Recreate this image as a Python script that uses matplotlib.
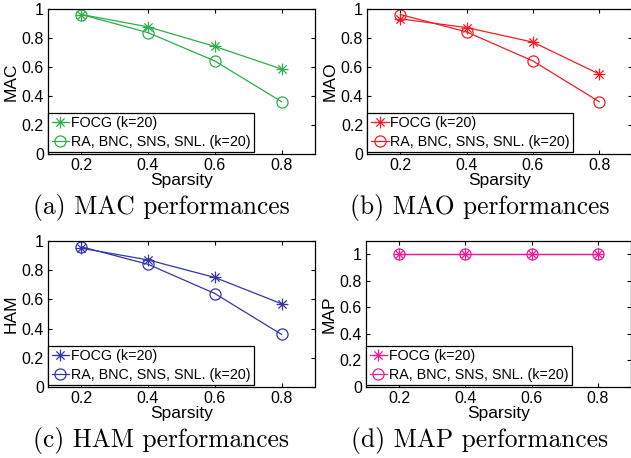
import matplotlib
matplotlib.use("Agg")
import matplotlib.pyplot as plt
from matplotlib.path import Path

plt.rcParams['font.family'] = ['Liberation Sans', 'DejaVu Sans']

# data
sparsity = [0.2, 0.4, 0.6, 0.8]
mac_focg = [0.96, 0.875, 0.74, 0.585]
mac_base = [0.96, 0.835, 0.64, 0.36]
mao_focg = [0.93, 0.87, 0.77, 0.55]
mao_base = [0.96, 0.84, 0.64, 0.36]
ham_focg = [0.95, 0.87, 0.75, 0.57]
ham_base = [0.96, 0.84, 0.64, 0.36]
map_focg = [1.0, 1.0, 1.0, 1.0]
map_base = [1.0, 1.0, 1.0, 1.0]

labels = ['FOCG (k=20)', 'RA, BNC, SNS, SNL. (k=20)']
ylabels = ['MAC', 'MAO', 'HAM', 'MAP']
captions = ['(a) MAC performances', '(b) MAO performances',
            '(c) HAM performances', '(d) MAP performances']
colors = ['#2bb04a', '#f21c24', '#3535a8', '#ee1a98']

# matlab style asterisk: + and x together
asterisk = Path([(-1, 0), (1, 0), (0, -1), (0, 1),
                 (-0.7, -0.7), (0.7, 0.7), (-0.7, 0.7), (0.7, -0.7)],
                [Path.MOVETO, Path.LINETO] * 4)

fig = plt.figure(figsize=(6.31, 4.58), dpi=100)
positions = [[0.076, 0.664, 0.423, 0.317],
             [0.582, 0.664, 0.420, 0.317],
             [0.076, 0.155, 0.423, 0.319],
             [0.580, 0.155, 0.420, 0.319]]
series = [(mac_focg, mac_base), (mao_focg, mao_base),
          (ham_focg, ham_base), (map_focg, map_base)]
cap_pos = [(0.255, 0.548), (0.76, 0.548), (0.255, 0.039), (0.76, 0.039)]

for i in range(4):
    ax = fig.add_axes(positions[i])
    f, b = series[i]
    c = colors[i]
    ax.plot(sparsity, f, color=c, lw=0.9, marker=asterisk, ms=8.5,
            mfc='none', mec=c, mew=0.9, label=labels[0])
    ax.plot(sparsity, b, color=c, lw=0.9, marker='o', ms=8,
            mfc='none', mec=c, mew=0.9, label=labels[1])
    ax.set_xlim(0.1, 0.9)
    if i == 3:
        ax.set_ylim(0, 1.1)
    else:
        ax.set_ylim(0, 1)
    ax.set_xticks([0.2, 0.4, 0.6, 0.8])
    ax.set_xticklabels(['0.2', '0.4', '0.6', '0.8'])
    ax.set_yticks([0, 0.2, 0.4, 0.6, 0.8, 1])
    ax.set_yticklabels(['0', '0.2', '0.4', '0.6', '0.8', '1'])
    ax.tick_params(direction='in', top=True, right=True, labelsize=11.5,
                   length=3, width=0.8, pad=3)
    for s in ax.spines.values():
        s.set_linewidth(0.9)
    ax.set_xlabel('Sparsity', fontsize=12.5, labelpad=0)
    ax.set_ylabel(ylabels[i], fontsize=12.5, labelpad=2)
    leg = ax.legend(loc='lower left', bbox_to_anchor=(0, 0.012), fontsize=10.3,
                    fancybox=False, edgecolor='black', framealpha=1,
                    borderaxespad=0, handlelength=1.25, handletextpad=0.1,
                    borderpad=0.25, labelspacing=0.3)
    leg.get_frame().set_linewidth(0.9)
    fig.text(cap_pos[i][0], cap_pos[i][1], captions[i], fontsize=18.3,
             family='cmr10', ha='center', va='center')

plt.savefig('out.png', dpi=100)
